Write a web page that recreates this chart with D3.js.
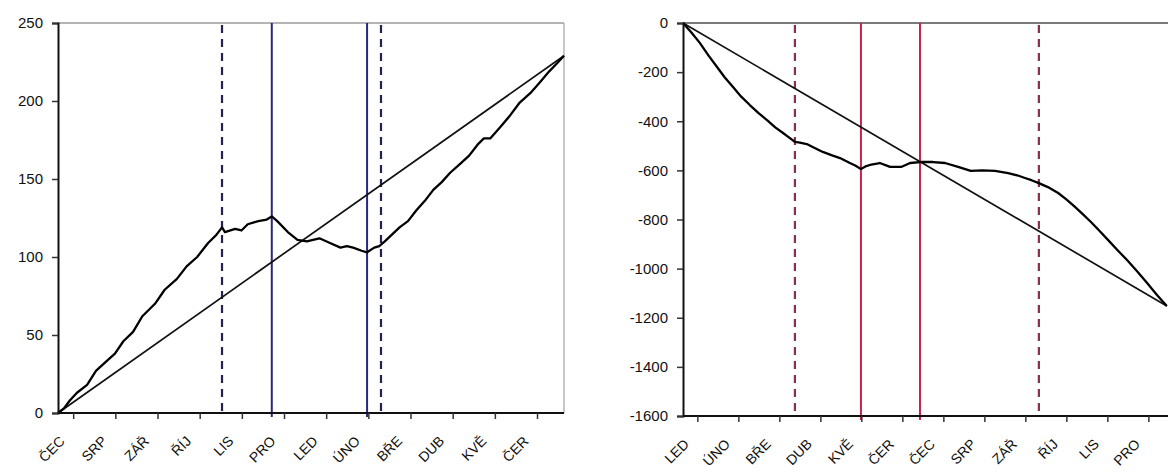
<!DOCTYPE html>
<html><head><meta charset="utf-8">
<script src="https://cdn.jsdelivr.net/npm/d3@7"></script>
<style>
html,body{margin:0;padding:0;background:#fff;overflow:hidden}
svg text{font-family:"Liberation Sans",Arial,sans-serif;fill:#111}
</style></head><body>
<svg id="c" width="1168" height="474"></svg>
<script>
// ---- Left chart data (x in months from start, y in points) ----
const leftMonths = ["ČEC","SRP","ZÁŘ","ŘÍJ","LIS","PRO","LED","ÚNO","BŘE","DUB","KVĚ","ČER"];
const leftTicks = [0.36,1.36,2.36,3.36,4.36,5.36,6.36,7.36,8.36,9.36,10.36,11.36];
const leftYTicks = [0,50,100,150,200,250];
const leftSeriesX = [0,0.14,0.28,0.45,0.69,0.9,1.1,1.35,1.55,1.78,2.0,2.3,2.53,2.82,3.05,3.3,3.56,3.75,3.89,3.96,4.2,4.35,4.5,4.75,4.95,5.07,5.2,5.45,5.68,5.9,6.05,6.2,6.45,6.7,6.85,7.0,7.2,7.33,7.5,7.62,7.66,7.75,8.1,8.3,8.5,8.7,8.9,9.1,9.3,9.55,9.75,9.95,10.1,10.25,10.48,10.7,10.95,11.2,11.43,11.65,11.83,12];
const leftSeriesY = [0,3,8,13,18,27,32,38,46,52,62,70,79,86,94,100,109,114,119,116,118,117,121,123,124,126,123,116,111,110,111,112,109,106,107,106,104,103,106,107,108,110,119,123,130,136,143,148,154,160,165,172,176,176,183,190,199,205,212,219,224,229];
const leftTrend = [[0,0],[12,229]];
const leftSolid = [5.07,7.33];
const leftDashed = [3.89,7.66];

// ---- Right chart data ----
const rightMonths = ["LED","ÚNO","BŘE","DUB","KVĚ","ČER","ČEC","SRP","ZÁŘ","ŘÍJ","LIS","PRO"];
const rightTicks = [0.35,1.35,2.35,3.35,4.35,5.35,6.35,7.35,8.35,9.35,10.35,11.35];
const rightYTicks = [0,-200,-400,-600,-800,-1000,-1200,-1400,-1600];
const rightSeriesX = [0,0.2,0.41,0.62,0.83,1.02,1.22,1.42,1.63,1.85,2.05,2.25,2.44,2.6,2.73,2.85,3.02,3.2,3.41,3.62,3.83,4.07,4.2,4.34,4.45,4.56,4.8,5.05,5.32,5.54,5.78,6.1,6.39,6.71,7.02,7.3,7.61,7.93,8.15,8.34,8.5,8.68,8.9,9.15,9.35,9.56,9.75,9.95,10.15,10.37,10.6,10.83,11.07,11.32,11.55,11.8];
const rightSeriesY = [0,-38,-81,-132,-179,-222,-261,-300,-334,-368,-395,-425,-448,-468,-484,-487,-493,-508,-525,-538,-550,-570,-580,-594,-584,-578,-570,-586,-586,-570,-566,-566,-570,-586,-602,-600,-602,-611,-620,-631,-640,-652,-668,-692,-718,-749,-778,-810,-845,-884,-925,-965,-1010,-1059,-1105,-1152];
const rightTrend = [[0,0],[11.8,-1152]];
const rightSolid = [4.34,5.78];
const rightDashed = [2.73,8.68];

const svg = d3.select("#c");

function drawChart(cfg){
  const g = svg.append("g");
  const x = d3.scaleLinear().domain([0,12]).range([cfg.x0,cfg.x1]);
  const y = d3.scaleLinear().domain(cfg.yDomain).range([cfg.y1,cfg.y0]);
  g.append("line").attr("x1",cfg.x0).attr("x2",Math.min(cfg.x1,1200)).attr("y1",cfg.y0).attr("y2",cfg.y0)
    .attr("stroke",cfg.borderColor).attr("stroke-width",2);
  g.append("line").attr("x1",cfg.x1).attr("x2",cfg.x1).attr("y1",cfg.y0).attr("y2",cfg.y1)
    .attr("stroke",cfg.borderColor).attr("stroke-width",1.5);
  cfg.dashed.forEach(v=>{
    g.append("line").attr("x1",x(v)).attr("x2",x(v)).attr("y1",cfg.y0+2).attr("y2",cfg.y1)
      .attr("stroke",cfg.dashColor).attr("stroke-width",2.2).attr("stroke-dasharray","8,6");
  });
  cfg.solid.forEach(v=>{
    g.append("line").attr("x1",x(v)).attr("x2",x(v)).attr("y1",cfg.y0).attr("y2",cfg.y1+4)
      .attr("stroke",cfg.solidColor).attr("stroke-width",2);
  });
  const line = d3.line().x(d=>x(d[0])).y(d=>y(d[1]));
  g.append("path").datum(cfg.trend).attr("d",line).attr("fill","none")
    .attr("stroke","#111").attr("stroke-width",1.7);
  const pts = cfg.sx.map((v,i)=>[v,cfg.sy[i]]);
  g.append("path").datum(pts).attr("d",line).attr("fill","none")
    .attr("stroke","#000").attr("stroke-width",2.3).attr("stroke-linejoin","round");
  const ya = d3.axisLeft(y).tickValues(cfg.yTicks).tickSize(6).tickPadding(9).tickFormat(d3.format("d"));
  const yg = g.append("g").attr("transform",`translate(${cfg.x0},0)`).call(ya);
  yg.select(".domain").attr("stroke","#111").attr("stroke-width",2);
  yg.selectAll(".tick line").attr("stroke","#333").attr("stroke-width",1.5);
  yg.selectAll(".tick text").attr("font-size",15).attr("fill","#111").style("font-family","Liberation Sans, Arial, sans-serif")
    .text(d=>d<0? "-"+Math.abs(d) : d);
  const xa = d3.axisBottom(x).tickValues(cfg.xTicks).tickSize(6).tickPadding(0)
    .tickFormat((d,i)=>cfg.months[i]);
  const xg = g.append("g").attr("transform",`translate(0,${cfg.y1})`).call(xa);
  xg.select(".domain").attr("stroke","#111").attr("stroke-width",2)
    .attr("d",`M${cfg.x0},0H${Math.min(cfg.x1,1168)}`);
  xg.selectAll(".tick line").attr("stroke","#333").attr("stroke-width",1.5);
  xg.selectAll(".tick text")
    .attr("x",0).attr("y",0).attr("dy",null)
    .attr("text-anchor","end").attr("font-size",14).attr("fill","#111")
    .style("font-family","Liberation Sans, Arial, sans-serif")
    .attr("transform","translate(-8,29) rotate(-45)");
}

drawChart({x0:58,x1:564,y0:23,y1:413,yDomain:[0,250],yTicks:leftYTicks,xTicks:leftTicks,months:leftMonths,
  sx:leftSeriesX,sy:leftSeriesY,trend:leftTrend,solid:leftSolid,dashed:leftDashed,
  solidColor:"#28287e",dashColor:"#22224e",borderColor:"#b4b4b4"});
drawChart({x0:683,x1:1175,y0:23,y1:416,yDomain:[-1600,0],yTicks:rightYTicks,xTicks:rightTicks,months:rightMonths,
  sx:rightSeriesX,sy:rightSeriesY,trend:rightTrend,solid:rightSolid,dashed:rightDashed,
  solidColor:"#c8224a",dashColor:"#8c2e4a",borderColor:"#7a7a7a"});
</script></body></html>
